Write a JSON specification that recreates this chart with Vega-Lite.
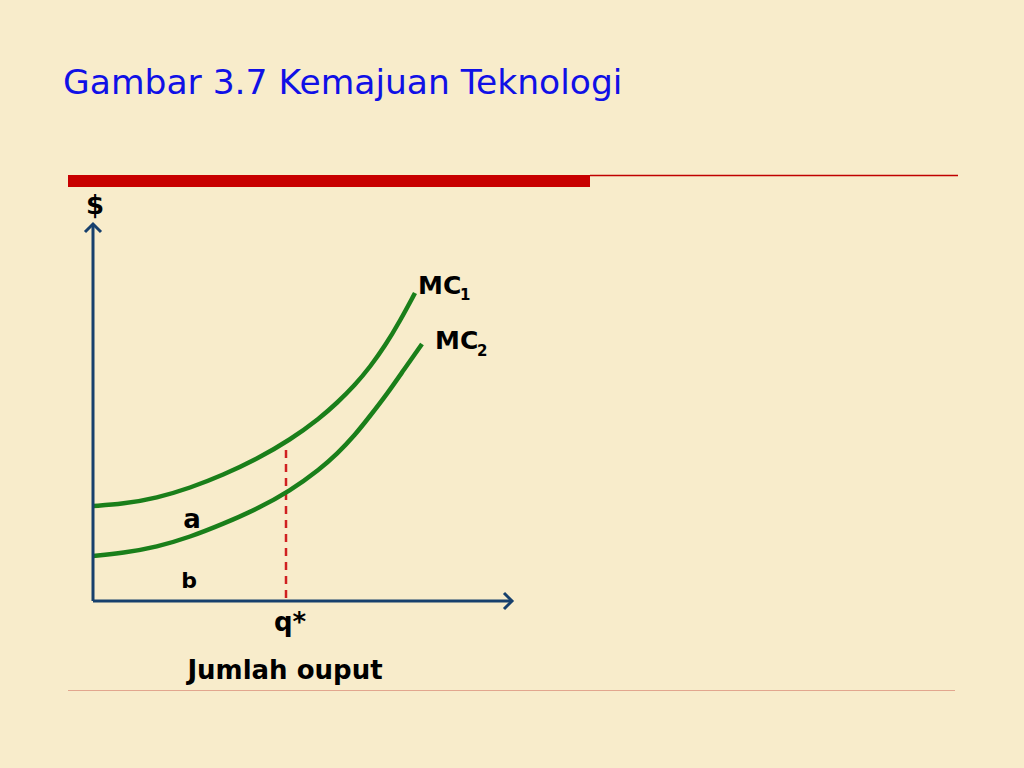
{
  "$schema": "https://vega.github.io/schema/vega-lite/v6.json",
  "width": 1024,
  "height": 768,
  "autosize": {"type": "fit", "contains": "padding"},
  "padding": 0,
  "background": "#F8ECCB",
  "config": {"view": {"stroke": null}},
  "encoding": {
    "x": {"field": "x", "type": "quantitative", "scale": {"domain": [-93, 931], "nice": false, "zero": false}, "axis": null},
    "y": {"field": "y", "type": "quantitative", "scale": {"domain": [-167, 601], "nice": false, "zero": false}, "axis": null}
  },
  "layer": [
    {
      "data": {"values": [{"x": -25, "x2": 497, "y": 414, "y2": 426}]},
      "mark": {"type": "rect", "color": "#C80000"},
      "encoding": {"x2": {"field": "x2"}, "y2": {"field": "y2"}}
    },
    {
      "data": {"values": [{"x": 497, "x2": 865, "y": 425.5, "y2": 425.5}]},
      "mark": {"type": "rule", "color": "#C00000", "strokeWidth": 1.3},
      "encoding": {"x2": {"field": "x2"}, "y2": {"field": "y2"}}
    },
    {
      "data": {"values": [{"x": -25, "x2": 862, "y": -89.5, "y2": -89.5}]},
      "mark": {"type": "rule", "color": "#E2A68E", "strokeWidth": 1.2},
      "encoding": {"x2": {"field": "x2"}, "y2": {"field": "y2"}}
    },
    {
      "data": {"values": [{"x": 193, "x2": 193, "y": 3, "y2": 153}]},
      "mark": {"type": "rule", "color": "#D02020", "strokeWidth": 2.5, "strokeDash": [8, 6]},
      "encoding": {"x2": {"field": "x2"}, "y2": {"field": "y2"}}
    },
    {
      "data": {"values": [
        {"curve": "MC1", "x": 0, "y": 95}, {"curve": "MC1", "x": 30, "y": 97}, {"curve": "MC1", "x": 64, "y": 103},
        {"curve": "MC1", "x": 97, "y": 113}, {"curve": "MC1", "x": 130, "y": 126}, {"curve": "MC1", "x": 164, "y": 142},
        {"curve": "MC1", "x": 197, "y": 161}, {"curve": "MC1", "x": 227, "y": 183}, {"curve": "MC1", "x": 244, "y": 198},
        {"curve": "MC1", "x": 262, "y": 216}, {"curve": "MC1", "x": 277, "y": 234}, {"curve": "MC1", "x": 292, "y": 255},
        {"curve": "MC1", "x": 307, "y": 280}, {"curve": "MC1", "x": 322, "y": 308},
        {"curve": "MC2", "x": 0, "y": 45}, {"curve": "MC2", "x": 30, "y": 48}, {"curve": "MC2", "x": 64, "y": 54},
        {"curve": "MC2", "x": 97, "y": 64}, {"curve": "MC2", "x": 130, "y": 77}, {"curve": "MC2", "x": 164, "y": 92},
        {"curve": "MC2", "x": 197, "y": 110}, {"curve": "MC2", "x": 227, "y": 132}, {"curve": "MC2", "x": 244, "y": 147},
        {"curve": "MC2", "x": 262, "y": 166}, {"curve": "MC2", "x": 277, "y": 185}, {"curve": "MC2", "x": 294, "y": 207},
        {"curve": "MC2", "x": 310, "y": 230}, {"curve": "MC2", "x": 329, "y": 257}
      ]},
      "mark": {"type": "line", "color": "#1A7F1A", "strokeWidth": 4.5, "interpolate": "basis"},
      "encoding": {"detail": {"field": "curve"}}
    },
    {
      "data": {"values": [{"x": 0, "x2": 0, "y": 0, "y2": 376}, {"x": 0, "x2": 418, "y": 0, "y2": 0}]},
      "mark": {"type": "rule", "color": "#17406D", "strokeWidth": 3},
      "encoding": {"x2": {"field": "x2"}, "y2": {"field": "y2"}}
    },
    {
      "data": {"values": [{"x": 0, "y": 377}]},
      "mark": {"type": "point", "shape": "M-1,1L0,0L1,1", "filled": false, "size": 256, "stroke": "#17406D", "strokeWidth": 3, "opacity": 1},
      "encoding": {}
    },
    {
      "data": {"values": [{"x": 419, "y": 0}]},
      "mark": {"type": "point", "shape": "M-1,-1L0,0L-1,1", "filled": false, "size": 256, "stroke": "#17406D", "strokeWidth": 3, "opacity": 1},
      "encoding": {}
    },
    {
      "data": {"values": [{"x": -30, "y": 507, "t": "Gambar 3.7 Kemajuan Teknologi"}]},
      "mark": {"type": "text", "align": "left", "baseline": "alphabetic", "font": "DejaVu Sans", "fontSize": 34.5, "color": "#1010E6"},
      "encoding": {"text": {"field": "t"}}
    },
    {
      "data": {"values": [
        {"x": 2, "y": 387, "t": "$"},
        {"x": 99, "y": 73, "t": "a"},
        {"x": 197, "y": -30, "t": "q*"},
        {"x": 192, "y": -78, "t": "Jumlah ouput"}
      ]},
      "mark": {"type": "text", "align": "center", "baseline": "alphabetic", "font": "DejaVu Sans", "fontWeight": "bold", "fontSize": 26, "color": "#000000"},
      "encoding": {"text": {"field": "t"}}
    },
    {
      "data": {"values": [{"x": 96, "y": 13, "t": "b"}]},
      "mark": {"type": "text", "align": "center", "baseline": "alphabetic", "font": "DejaVu Sans", "fontWeight": "bold", "fontSize": 22, "color": "#000000"},
      "encoding": {"text": {"field": "t"}}
    },
    {
      "data": {"values": [{"x": 325, "y": 307, "t": "MC"}, {"x": 342, "y": 252, "t": "MC"}]},
      "mark": {"type": "text", "align": "left", "baseline": "alphabetic", "font": "DejaVu Sans", "fontWeight": "bold", "fontSize": 25, "color": "#000000"},
      "encoding": {"text": {"field": "t"}}
    },
    {
      "data": {"values": [{"x": 367, "y": 301, "t": "1"}, {"x": 384, "y": 245, "t": "2"}]},
      "mark": {"type": "text", "align": "left", "baseline": "alphabetic", "font": "DejaVu Sans", "fontWeight": "bold", "fontSize": 15, "color": "#000000"},
      "encoding": {"text": {"field": "t"}}
    }
  ]
}
